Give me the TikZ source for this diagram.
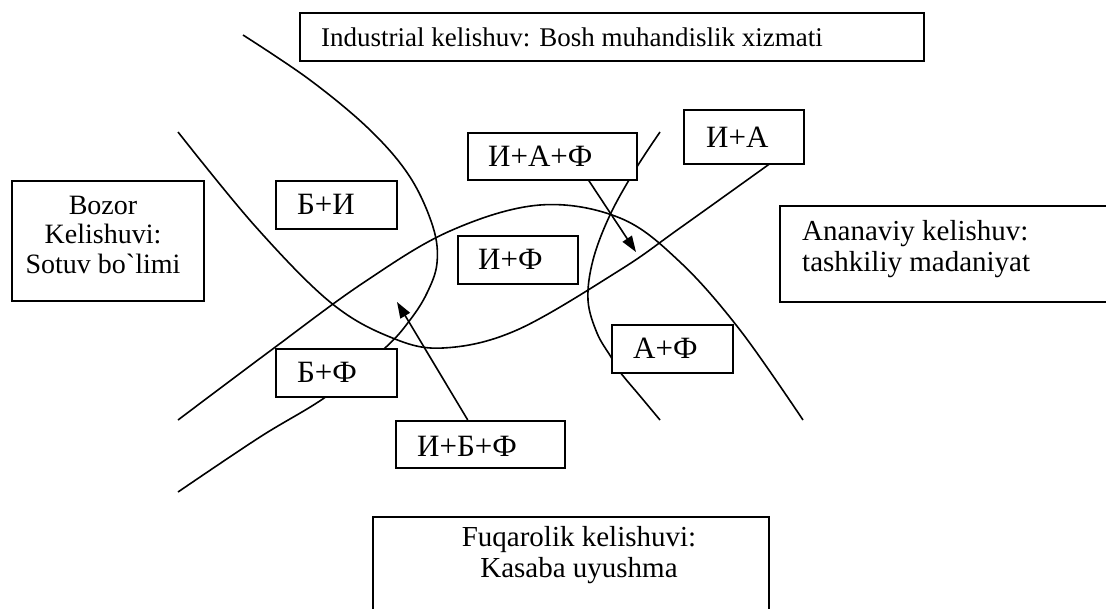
\documentclass[tikz,border=0pt]{standalone}
\usepackage{fontspec}
\newfontfamily\tnr{Liberation Serif}
\usetikzlibrary{arrows.meta}
\begin{document}
\begin{tikzpicture}[x=1pt,y=-1pt,
  curve/.style={line width=1.6pt},
  box/.style={draw, fill=white, line width=1.5pt, anchor=north west, inner sep=0pt},
  lbl/.style={inner sep=0pt, font=\tnr\fontsize{31}{31}\selectfont, anchor=base west},
  big/.style={inner sep=0pt, font=\tnr\fontsize{29}{31}\selectfont},
  arr/.style={-{Triangle[length=16pt,width=11pt]}, line width=1.6pt}]
\clip (0,0) rectangle (1106,608);
% curves
\draw[curve] plot[smooth, tension=0.6] coordinates {(243,35) (310,80) (370,130) (410,177) (433,227) (437,263) (427,293) (410,320) (385,348) (327,396) (260,437) (178,492)};
\draw[curve] plot[smooth, tension=0.6] coordinates {(178,132) (255,226) (330,302) (390,337) (443,348) (517,330) (620,270) (680,228) (775,160)};
\draw[curve] plot[smooth, tension=0.6] coordinates {(178,420) (270,351) (363,283) (450,231) (540,205) (620,218) (680,262) (740,330) (803,420)};
\draw[curve] plot[smooth, tension=0.6] coordinates {(660,132) (635,170) (610,215) (593,260) (588,300) (597,333) (611,357) (620,372) (640,396) (660,420)};
% boxes
\node[box, minimum width=624pt, minimum height=48pt] (IND) at (299,12) {};
\node[box, minimum width=192pt, minimum height=120pt] (BOZ) at (11,180) {};
\node[box, minimum width=121pt, minimum height=48pt] (BI) at (275,180) {};
\node[box, minimum width=169pt, minimum height=47pt] (IAF) at (467,132) {};
\node[box, minimum width=120pt, minimum height=48pt] (IF) at (457,235) {};
\node[box, minimum width=120pt, minimum height=54pt] (IA) at (683,109) {};
\node[box, minimum width=341pt, minimum height=96pt] (ANA) at (779,205) {};
\node[box, minimum width=121pt, minimum height=48pt] (AF) at (611,324) {};
\node[box, minimum width=121pt, minimum height=48pt] (BF) at (275,348) {};
\node[box, minimum width=169pt, minimum height=47pt] (IBF) at (395,420) {};
\node[box, minimum width=396pt, minimum height=110pt] (FUQ) at (372,516) {};
% texts
\node[inner sep=0pt, anchor=base west, font=\tnr\fontsize{27}{28}\selectfont] (tIND) at (321,46) {Industrial kelishuv: Bosh muhandislik xizmati};
\node[inner sep=0pt, anchor=base, align=center, font=\tnr\fontsize{28}{29.5}\selectfont] (tBOZ) at (103,273) {Bozor\\Kelishuvi:\\Sotuv bo`limi};
\node[big, anchor=base west, align=left] (tANA) at (802,271) {Ananaviy kelishuv:\\tashkiliy madaniyat};
\node[big, anchor=base, align=center] (tFUQ) at (579,577) {Fuqarolik kelishuvi:\\Kasaba uyushma};
\node[lbl] (tBI) at ([xshift=22pt,yshift=-10pt]BI.west) {Б+И};
\node[lbl] (tIAF) at ([xshift=21pt,yshift=-10pt]IAF.west) {И+А+Ф};
\node[lbl] (tIF) at ([xshift=21pt,yshift=-10pt]IF.west) {И+Ф};
\node[lbl] (tIA) at ([xshift=23pt,yshift=-11pt]IA.west) {И+А};
\node[lbl] (tAF) at ([xshift=22pt,yshift=-10pt]AF.west) {А+Ф};
\node[lbl] (tBF) at ([xshift=22pt,yshift=-10pt]BF.west) {Б+Ф};
\node[lbl] (tIBF) at ([xshift=22pt,yshift=-12pt]IBF.west) {И+Б+Ф};
% arrows
\coordinate (t1) at (636,252);
\coordinate (t2) at (397,302);
\draw[arr] ([xshift=36.5pt]IAF.south) -- (t1);
\draw[arr] ([xshift=-12.5pt]IBF.north) -- (t2);
\end{tikzpicture}
\end{document}
